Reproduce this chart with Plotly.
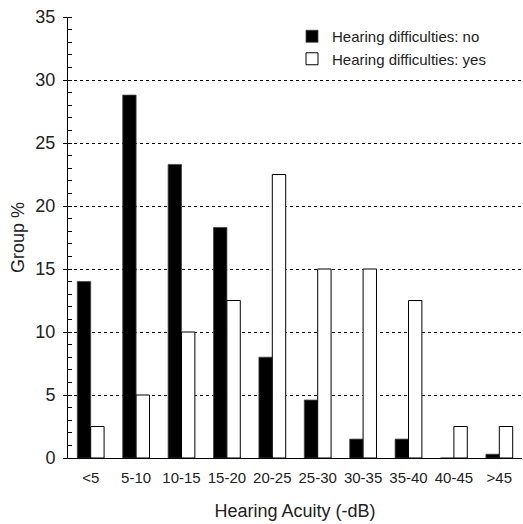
import plotly.graph_objects as go

categories = ["<5", "5-10", "10-15", "15-20", "20-25", "25-30", "30-35", "35-40", "40-45", ">45"]
no_difficulties = [14.0, 28.8, 23.3, 18.3, 8.0, 4.6, 1.5, 1.5, 0.0, 0.3]
yes_difficulties = [2.5, 5.0, 10.0, 12.5, 22.5, 15.0, 15.0, 12.5, 2.5, 2.5]
y_ticks = [0, 5, 10, 15, 20, 25, 30, 35]

FONT = "Liberation Sans, Arial, Helvetica, sans-serif"

fig = go.Figure()
fig.add_trace(go.Bar(
    x=categories, y=no_difficulties, name="Hearing difficulties: no",
    marker=dict(color="black", line=dict(color="#444", width=0.8)),
))
fig.add_trace(go.Bar(
    x=categories, y=yes_difficulties, name="Hearing difficulties: yes",
    marker=dict(color="white", line=dict(color="black", width=1)),
))

fig.update_layout(
    width=523, height=524,
    margin=dict(l=68, r=1, t=17, b=66),
    paper_bgcolor="white", plot_bgcolor="white",
    font=dict(family=FONT, size=15, color="#222"),
    barmode="group", bargap=0.41, bargroupgap=0,
    showlegend=True,
    legend=dict(
        x=(292 - 68) / 454, y=1 - (20 - 17) / 441, xanchor="left", yanchor="top",
        bgcolor="rgba(0,0,0,0)", borderwidth=0,
        font=dict(family=FONT, size=15, color="#222"),
        itemwidth=30, tracegroupgap=0,
    ),
    xaxis=dict(
        type="category", showgrid=False, showline=True, linecolor="black", linewidth=1,
        ticks="", tickfont=dict(size=15), tickangle=0, ticklabelstandoff=6,
        title=dict(text="Hearing Acuity (-dB)", font=dict(size=18), standoff=19),
        range=[-0.5, 9.5], fixedrange=True,
    ),
    yaxis=dict(
        range=[0, 35], tickvals=y_ticks, showline=True, linecolor="black", linewidth=1,
        showgrid=True, gridcolor="black", gridwidth=1, griddash="3px,3px",
        ticks="outside", ticklen=4, tickcolor="black", tickwidth=1,
        tickfont=dict(size=18), ticklabelstandoff=4,
        minor=dict(dtick=1, ticks="inside", ticklen=4, tickcolor="black", tickwidth=1, showgrid=False),
        zeroline=False,
        title=dict(text="Group %", font=dict(size=18), standoff=6),
    ),
)

fig.write_html(
    "out.html",
    config={"displayModeBar": False},
    post_script="document.body.style.margin='0px';document.body.style.overflow='hidden';",
)
